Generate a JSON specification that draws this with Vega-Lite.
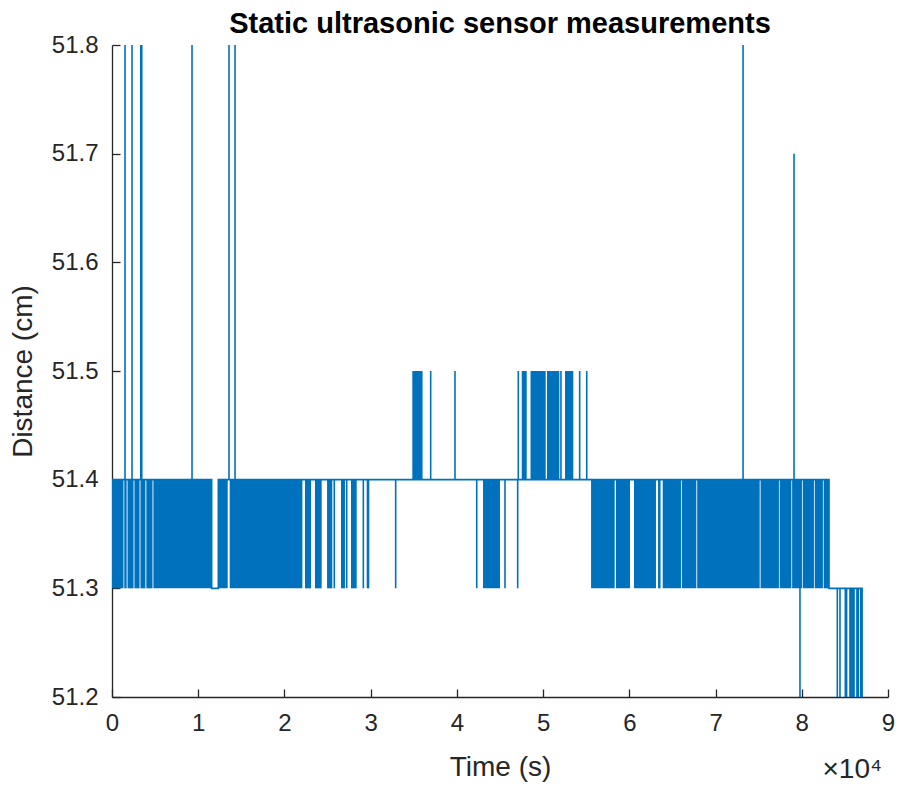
{
  "$schema": "https://vega.github.io/schema/vega-lite/v6.json",
  "width": 776,
  "height": 652,
  "autosize": {"type": "none"},
  "padding": {"left": 112, "top": 45, "right": 10, "bottom": 90},
  "background": "white",
  "title": {"text": "Static ultrasonic sensor measurements", "fontSize": 29, "font": "Liberation Sans", "fontWeight": "bold", "color": "black", "anchor": "middle", "offset": -6},
  "config": {
    "view": {"stroke": null},
    "axis": {"domainColor": "#262626", "tickColor": "#262626", "labelColor": "#262626", "titleColor": "#262626", "labelFont": "Liberation Sans", "titleFont": "Liberation Sans", "labelFontSize": 24, "titleFontSize": 28, "titleFontWeight": "normal", "grid": false, "tickSize": -8, "domainWidth": 1.3, "tickWidth": 1.3, "labelFlush": false}
  },
  "datasets": {
    "bands": [
      {"t0": 0, "t1": 1330, "lo": 51.3, "hi": 51.4},
      {"t0": 1420, "t1": 1700, "lo": 51.3, "hi": 51.4},
      {"t0": 1800, "t1": 2500, "lo": 51.3, "hi": 51.4},
      {"t0": 2600, "t1": 3200, "lo": 51.3, "hi": 51.4},
      {"t0": 3300, "t1": 3870, "lo": 51.3, "hi": 51.4},
      {"t0": 3980, "t1": 4700, "lo": 51.3, "hi": 51.4},
      {"t0": 4800, "t1": 11560, "lo": 51.3, "hi": 51.4},
      {"t0": 12330, "t1": 13420, "lo": 51.3, "hi": 51.4},
      {"t0": 13650, "t1": 22080, "lo": 51.3, "hi": 51.4},
      {"t0": 22380, "t1": 23080, "lo": 51.3, "hi": 51.4},
      {"t0": 23540, "t1": 24320, "lo": 51.3, "hi": 51.4},
      {"t0": 24940, "t1": 25550, "lo": 51.3, "hi": 51.4},
      {"t0": 26560, "t1": 27020, "lo": 51.3, "hi": 51.4},
      {"t0": 27720, "t1": 28380, "lo": 51.3, "hi": 51.4},
      {"t0": 29540, "t1": 29840, "lo": 51.3, "hi": 51.4},
      {"t0": 43030, "t1": 45000, "lo": 51.3, "hi": 51.4},
      {"t0": 55560, "t1": 58300, "lo": 51.3, "hi": 51.4},
      {"t0": 58450, "t1": 60080, "lo": 51.3, "hi": 51.4},
      {"t0": 60540, "t1": 63090, "lo": 51.3, "hi": 51.4},
      {"t0": 63330, "t1": 63620, "lo": 51.3, "hi": 51.4},
      {"t0": 63870, "t1": 65990, "lo": 51.3, "hi": 51.4},
      {"t0": 66090, "t1": 67770, "lo": 51.3, "hi": 51.4},
      {"t0": 67870, "t1": 75120, "lo": 51.3, "hi": 51.4},
      {"t0": 75220, "t1": 77350, "lo": 51.3, "hi": 51.4},
      {"t0": 77440, "t1": 78790, "lo": 51.3, "hi": 51.4},
      {"t0": 78880, "t1": 80020, "lo": 51.3, "hi": 51.4},
      {"t0": 80110, "t1": 81410, "lo": 51.3, "hi": 51.4},
      {"t0": 81500, "t1": 82450, "lo": 51.3, "hi": 51.4},
      {"t0": 82540, "t1": 83160, "lo": 51.3, "hi": 51.4},
      {"t0": 34830, "t1": 36020, "lo": 51.4, "hi": 51.5},
      {"t0": 47520, "t1": 48100, "lo": 51.4, "hi": 51.5},
      {"t0": 48540, "t1": 50300, "lo": 51.4, "hi": 51.5},
      {"t0": 50450, "t1": 51880, "lo": 51.4, "hi": 51.5},
      {"t0": 52540, "t1": 53500, "lo": 51.4, "hi": 51.5}
    ],
    "trace": [
      {"t": 0, "d": 51.4},
      {"t": 1510, "d": 51.4}, {"t": 1510, "d": 53}, {"t": 1510, "d": 51.4},
      {"t": 2320, "d": 51.4}, {"t": 2320, "d": 53}, {"t": 2320, "d": 51.4},
      {"t": 3340, "d": 51.4}, {"t": 3340, "d": 53}, {"t": 3340, "d": 51.4},
      {"t": 3450, "d": 51.4}, {"t": 3450, "d": 53}, {"t": 3450, "d": 51.4},
      {"t": 9280, "d": 51.4}, {"t": 9280, "d": 53}, {"t": 9280, "d": 51.4},
      {"t": 11560, "d": 51.4}, {"t": 11560, "d": 51.3}, {"t": 12330, "d": 51.3}, {"t": 12330, "d": 51.4},
      {"t": 13570, "d": 51.4}, {"t": 13570, "d": 53}, {"t": 13570, "d": 51.4},
      {"t": 14270, "d": 51.4}, {"t": 14270, "d": 53}, {"t": 14270, "d": 51.4},
      {"t": 25780, "d": 51.4}, {"t": 25780, "d": 51.3}, {"t": 25780, "d": 51.4},
      {"t": 27220, "d": 51.4}, {"t": 27220, "d": 51.3}, {"t": 27220, "d": 51.4},
      {"t": 29150, "d": 51.4}, {"t": 29150, "d": 51.3}, {"t": 29150, "d": 51.4},
      {"t": 32900, "d": 51.4}, {"t": 32900, "d": 51.3}, {"t": 32900, "d": 51.4},
      {"t": 36960, "d": 51.4}, {"t": 36960, "d": 51.5}, {"t": 36960, "d": 51.4},
      {"t": 39780, "d": 51.4}, {"t": 39780, "d": 51.5}, {"t": 39780, "d": 51.4},
      {"t": 42300, "d": 51.4}, {"t": 42300, "d": 51.3}, {"t": 42300, "d": 51.4},
      {"t": 45580, "d": 51.4}, {"t": 45580, "d": 51.3}, {"t": 45580, "d": 51.4},
      {"t": 47050, "d": 51.4}, {"t": 47050, "d": 51.3}, {"t": 47050, "d": 51.4},
      {"t": 47120, "d": 51.4}, {"t": 47120, "d": 51.5}, {"t": 47120, "d": 51.4},
      {"t": 52070, "d": 51.4}, {"t": 52070, "d": 51.5}, {"t": 52070, "d": 51.4},
      {"t": 54240, "d": 51.4}, {"t": 54240, "d": 51.5}, {"t": 54240, "d": 51.4},
      {"t": 55060, "d": 51.4}, {"t": 55060, "d": 51.5}, {"t": 55060, "d": 51.4},
      {"t": 73190, "d": 51.4}, {"t": 73190, "d": 53}, {"t": 73190, "d": 51.4},
      {"t": 79100, "d": 51.4}, {"t": 79100, "d": 51.7}, {"t": 79100, "d": 51.4},
      {"t": 79790, "d": 51.4}, {"t": 79790, "d": 51.2}, {"t": 79790, "d": 51.4},
      {"t": 83160, "d": 51.4}, {"t": 83160, "d": 51.3},
      {"t": 84120, "d": 51.3}, {"t": 84120, "d": 51.2}, {"t": 84120, "d": 51.3},
      {"t": 84430, "d": 51.3}, {"t": 84430, "d": 51.2}, {"t": 84430, "d": 51.3},
      {"t": 85050, "d": 51.3}, {"t": 85050, "d": 51.2}, {"t": 85050, "d": 51.3},
      {"t": 85200, "d": 51.3}, {"t": 85200, "d": 51.2}, {"t": 85200, "d": 51.3},
      {"t": 85590, "d": 51.3}, {"t": 85590, "d": 51.2}, {"t": 85590, "d": 51.3},
      {"t": 85750, "d": 51.3}, {"t": 85750, "d": 51.2}, {"t": 85750, "d": 51.3},
      {"t": 85900, "d": 51.3}, {"t": 85900, "d": 51.2}, {"t": 85900, "d": 51.3},
      {"t": 86060, "d": 51.3}, {"t": 86060, "d": 51.2}, {"t": 86060, "d": 51.3},
      {"t": 86400, "d": 51.3}, {"t": 86400, "d": 51.2}, {"t": 86400, "d": 51.3},
      {"t": 86550, "d": 51.3}, {"t": 86550, "d": 51.2}, {"t": 86550, "d": 51.3},
      {"t": 86830, "d": 51.3}, {"t": 86830, "d": 51.2}, {"t": 86830, "d": 51.3},
      {"t": 87000, "d": 51.3}, {"t": 87000, "d": 51.2}
    ],
    "note": [
      {"t": 90000, "d": 51.2, "label": "×10⁴"}
    ]
  },
  "layer": [
    {
      "data": {"name": "bands"},
      "mark": {"type": "rect", "color": "#0072BD", "clip": true},
      "encoding": {
        "x": {"field": "t0", "type": "quantitative", "scale": {"domain": [0, 90000], "nice": false, "zero": false},
              "axis": {"title": "Time (s)", "values": [0, 10000, 20000, 30000, 40000, 50000, 60000, 70000, 80000, 90000], "labelExpr": "datum.value / 10000", "labelPadding": 22, "titlePadding": 18}},
        "x2": {"field": "t1"},
        "y": {"field": "lo", "type": "quantitative", "scale": {"domain": [51.2, 51.8], "nice": false, "zero": false},
              "axis": {"title": "Distance (cm)", "values": [51.2, 51.3, 51.4, 51.5, 51.6, 51.7, 51.8], "format": ".1f", "labelPadding": 22, "titlePadding": 14}},
        "y2": {"field": "hi"}
      }
    },
    {
      "data": {"name": "trace"},
      "mark": {"type": "line", "color": "#0072BD", "strokeWidth": 1.6, "clip": true},
      "encoding": {
        "x": {"field": "t", "type": "quantitative", "scale": {"domain": [0, 90000], "nice": false, "zero": false}, "title": "Time (s)"},
        "y": {"field": "d", "type": "quantitative", "scale": {"domain": [51.2, 51.8], "nice": false, "zero": false}, "title": "Distance (cm)"}
      }
    },
    {
      "data": {"name": "note"},
      "mark": {"type": "text", "align": "right", "baseline": "alphabetic", "dx": -6, "dy": 81, "fontSize": 28, "font": "Liberation Sans", "color": "#262626"},
      "encoding": {
        "x": {"field": "t", "type": "quantitative", "scale": {"domain": [0, 90000], "nice": false, "zero": false}, "title": "Time (s)"},
        "y": {"field": "d", "type": "quantitative", "scale": {"domain": [51.2, 51.8], "nice": false, "zero": false}, "title": "Distance (cm)"},
        "text": {"field": "label"}
      }
    }
  ]
}
